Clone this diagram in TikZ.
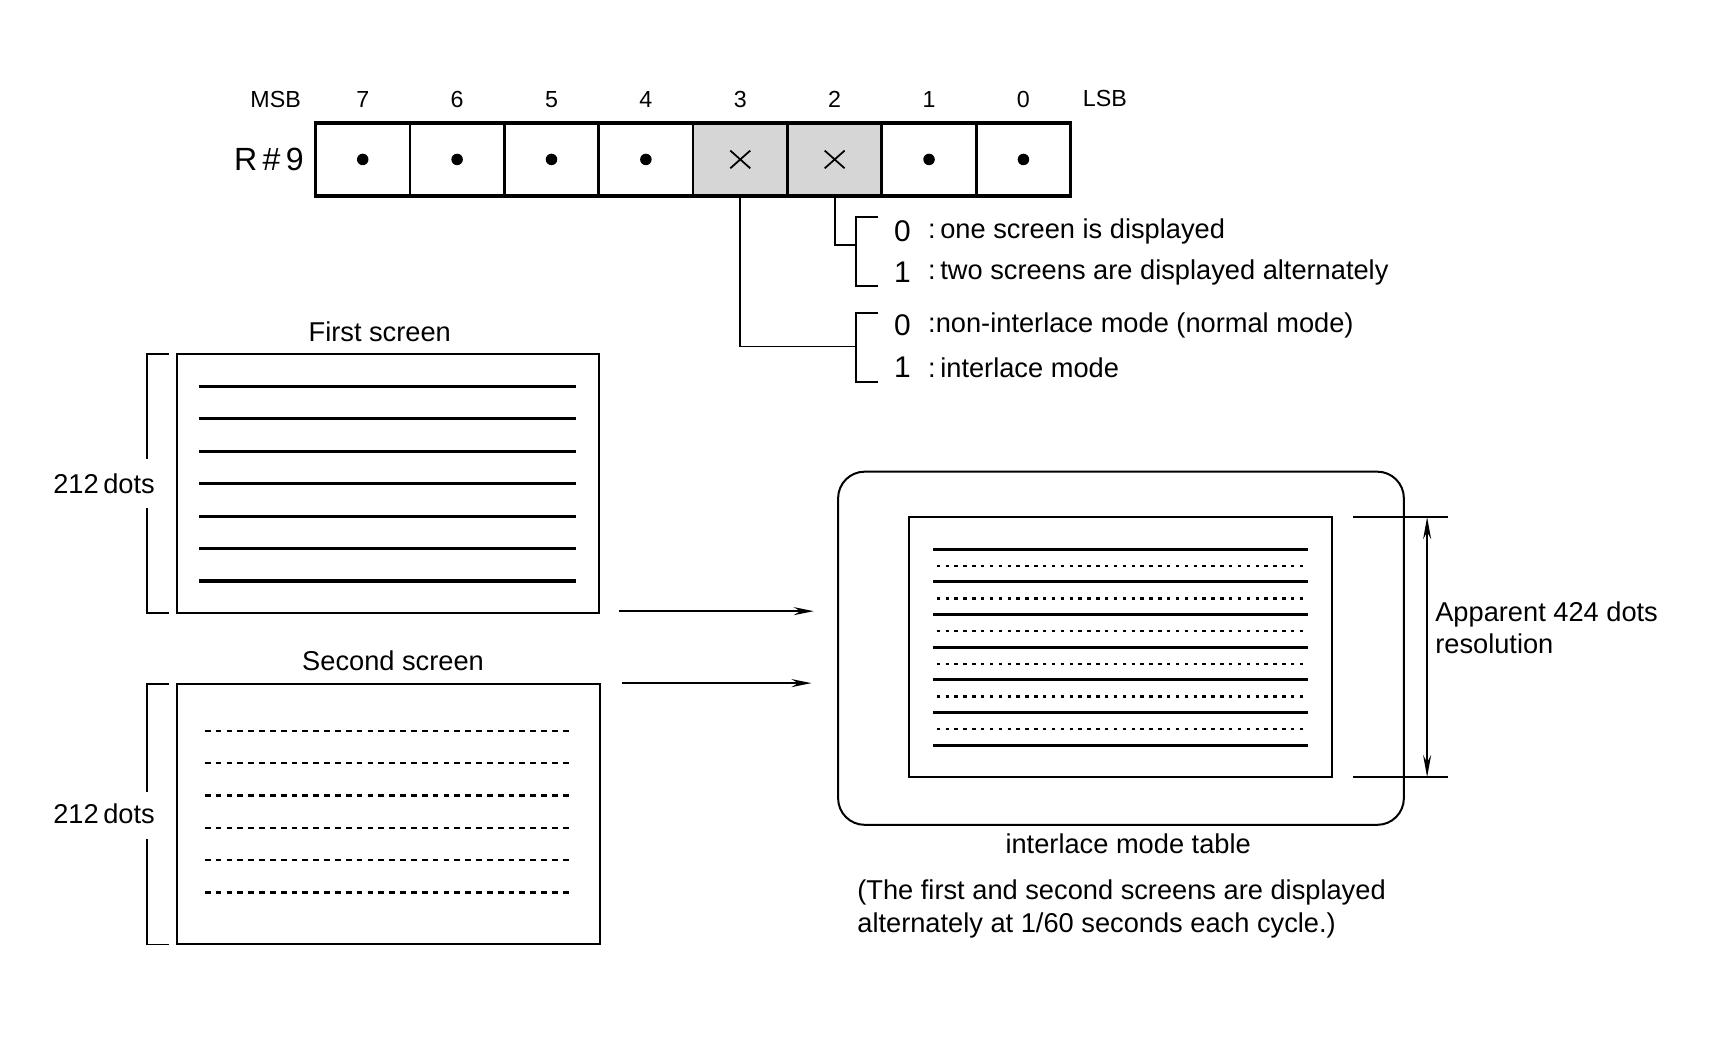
\documentclass[tikz,border=0pt]{standalone}
\usepackage{fontspec}
\setmainfont{Liberation Sans}
\usetikzlibrary{arrows.meta,calc}
\begin{document}
\begin{tikzpicture}[x=0.5pt,y=-0.5pt,
  cell/.style={draw,line width=1.2pt,minimum width=42.6pt,minimum height=33pt,inner sep=0pt,outer sep=0pt},
  lbl/.style={font=\fontsize{12.3}{14.6}\selectfont,inner sep=0pt},
  bitlbl/.style={font=\fontsize{10.5}{12}\selectfont,inner sep=0pt},
  digit/.style={font=\fontsize{13.5}{14}\selectfont,inner sep=0pt},
  scr/.style={draw,line width=0.9pt,inner sep=0pt,outer sep=0pt},
  scan/.style={line width=1.4pt},
  dscan/.style={line width=1.1pt,dash pattern=on 2.6pt off 2.3pt},
  dotscan/.style={line width=1pt,dash pattern=on 1.6pt off 2.4pt},
  arr/.style={-{Stealth[length=9pt,width=3.6pt]},line width=0.9pt},
  thin/.style={line width=0.8pt}
]
\useasboundingbox (0,0) rectangle (1568,955);

% register
\foreach \b/\i in {7/0,6/1,5/2,4/3,3/4,2/5,1/6,0/7}{
  \node[cell] (c\b) at ({285+85.25*(\i+0.5)},144) {};
  \node[bitlbl] (n\b) at ({285+85.25*(\i+0.5)},90) {\b};
}
\fill[gray!32] (c3.north west) rectangle (c2.south east);
\foreach \b in {7,6,5,4,3,2,1,0}{\draw[line width=1.2pt] (c\b.north west) rectangle (c\b.south east);}
\draw[line width=1.6pt] (c7.north west) rectangle (c0.south east);
\foreach \b in {7,6,5,4,1,0}{\fill (c\b) circle (5.2);}
\foreach \b in {3,2}{\draw[line width=0.8pt] ($(c\b)+(-9,-8)$) -- ($(c\b)+(9,8)$) ($(c\b)+(-9,8)$) -- ($(c\b)+(9,-8)$);}
\node[bitlbl] (msb) at (249,90) {MSB};
\node[bitlbl] (lsb) at (998,89) {LSB};
\node[font=\fontsize{14.5}{16}\selectfont,inner sep=0pt] (reg) at (243,144) {R\,\#\,9};

% brackets for bits
\coordinate (b2t) at (793,196); \coordinate (b2m) at (773,221); \coordinate (b2b) at (793,258);
\coordinate (b3t) at (793,283); \coordinate (b3m) at (773,313); \coordinate (b3b) at (793,345);
\draw[thin] (b2t) -- (773,196) -- (773,258) -- (b2b);
\draw[thin] (b3t) -- (773,283) -- (773,345) -- (b3b);
\draw[thin] (c2.south) -- (c2.south |- b2m) -- (b2m);
\draw[thin] (c3.south) -- (c3.south |- b3m) -- (b3m);

\node[digit] (d20) at (815,209) {0};
\node[digit] (d21) at (815,246) {1};
\node[digit] (d30) at (815,294) {0};
\node[digit] (d31) at (815,332) {1};
\node[lbl,anchor=west] (t20) at (838,209) {:\,one screen is displayed};
\node[lbl,anchor=west] (t21) at (838,246) {:\,two screens are displayed alternately};
\node[lbl,anchor=west] (t30) at (838,294) {:non-interlace mode (normal mode)};
\node[lbl,anchor=west] (t31) at (838,332) {:\,interlace mode};

% first screen
\node[scr,minimum width=190.5pt,minimum height=117pt] (s1) at (350.5,437) {};
\node[lbl] (s1t) at (343,300) {First screen};
\foreach \i in {0,...,6}{\draw[scan] (180,{349+29.3*\i}) -- (520,{349+29.3*\i});}
\draw[thin] (153,320) -- (133,320) -- (133,415);
\draw[thin] (133,459) -- (133,554) -- (153,554);
\node[lbl] (s1d) at (94,437) {212\,dots};

% second screen
\node[scr,minimum width=191pt,minimum height=117.5pt] (s2) at (351,735.5) {};
\node[lbl] (s2t) at (355,597) {Second screen};
\foreach \i in {0,...,5}{\draw[dscan] (185,{660+29.2*\i}) -- (518,{660+29.2*\i});}
\draw[thin] (153,618) -- (133,618) -- (133,715);
\draw[thin] (133,758) -- (133,853) -- (153,853);
\node[lbl] (s2d) at (94,735) {212\,dots};

% display
\node[scr,rounded corners=12pt,minimum width=255.5pt,minimum height=159.5pt] (disp) at (1012.5,585.5) {};
\node[scr,minimum width=191pt,minimum height=117.5pt] (inner) at (1012,584.5) {};
\foreach \i in {0,...,6}{\draw[scan] (843,{496+29.5*\i}) -- (1181,{496+29.5*\i});}
\foreach \i in {0,...,5}{\draw[dotscan] (846,{511+29.5*\i}) -- (1178,{511+29.5*\i});}

% arrows
\coordinate (a1s) at (559,552); \coordinate (a1e) at (735,552);
\coordinate (a2s) at (562,617); \coordinate (a2e) at (733,617);
\draw[arr] (a1s) -- (a1e);
\draw[arr] (a2s) -- (a2e);

% dimension
\coordinate (dt) at (1289,467); \coordinate (db) at (1289,702);
\draw[thin] (1222,467) -- (1308,467);
\draw[thin] (1222,702) -- (1308,702);
\draw[thin,{Stealth[length=10pt,width=3.6pt]}-{Stealth[length=10pt,width=3.6pt]}] (dt) -- (db);
\node[lbl,anchor=west,align=left] (app) at (1296,567) {Apparent 424 dots\\resolution};

\node[lbl] (cap) at (1019,762) {interlace mode table};
\node[lbl,anchor=west,align=left] (note) at (774,821) {(The first and second screens are displayed\\alternately at 1/60 seconds each cycle.)};
\end{tikzpicture}
\end{document}
